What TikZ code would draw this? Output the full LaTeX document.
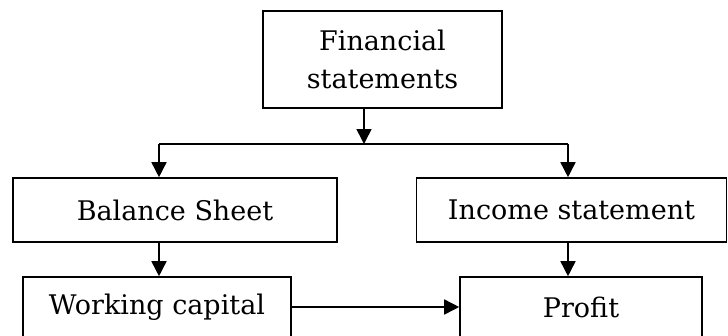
\documentclass[tikz,border=0pt]{standalone}
\usepackage{fontspec}
\setmainfont{DejaVu Serif}
\usetikzlibrary{arrows.meta}
\begin{document}
\begin{tikzpicture}[x=1pt,y=-1pt,
  box/.style={draw,line width=1.6pt,inner sep=0pt,anchor=center,align=center,
    font=\fontsize{27}{38}\selectfont},
  conn/.style={line width=1.6pt,-{Triangle[length=15pt,width=15pt]}},
  plain/.style={line width=1.6pt}]
\useasboundingbox (0,0) rectangle (728,335);
\clip (0,0) rectangle (728,335);
\node[box,minimum width=239pt,minimum height=97pt] (fs) at (382.5,59.5) {Financial\\statements};
\node[box,minimum width=324pt,minimum height=64pt] (bs) at (175,210) {Balance Sheet};
\node[box,minimum width=310pt,minimum height=64pt] (is) at (571.5,210) {Income statement};
\node[box,minimum width=268pt,minimum height=60pt] (wc) at (157,307) {Working capital};
\node[box,minimum width=242pt,minimum height=60pt] (pr) at (581,307) {Profit};
\coordinate (j) at (364,144);
\coordinate (jl) at (159,144);
\coordinate (jr) at (568,144);
\draw[conn] (fs.south -| j) -- (j);
\draw[plain] (jl) -- (jr);
\draw[conn] (jl) -- (jl |- bs.north);
\draw[conn] (jr) -- (jr |- is.north);
\draw[conn] (bs.south -| jl) -- (jl |- wc.north);
\draw[conn] (is.south -| jr) -- (jr |- pr.north);
\draw[conn] (wc.east) -- (pr.west);
\end{tikzpicture}
\end{document}
